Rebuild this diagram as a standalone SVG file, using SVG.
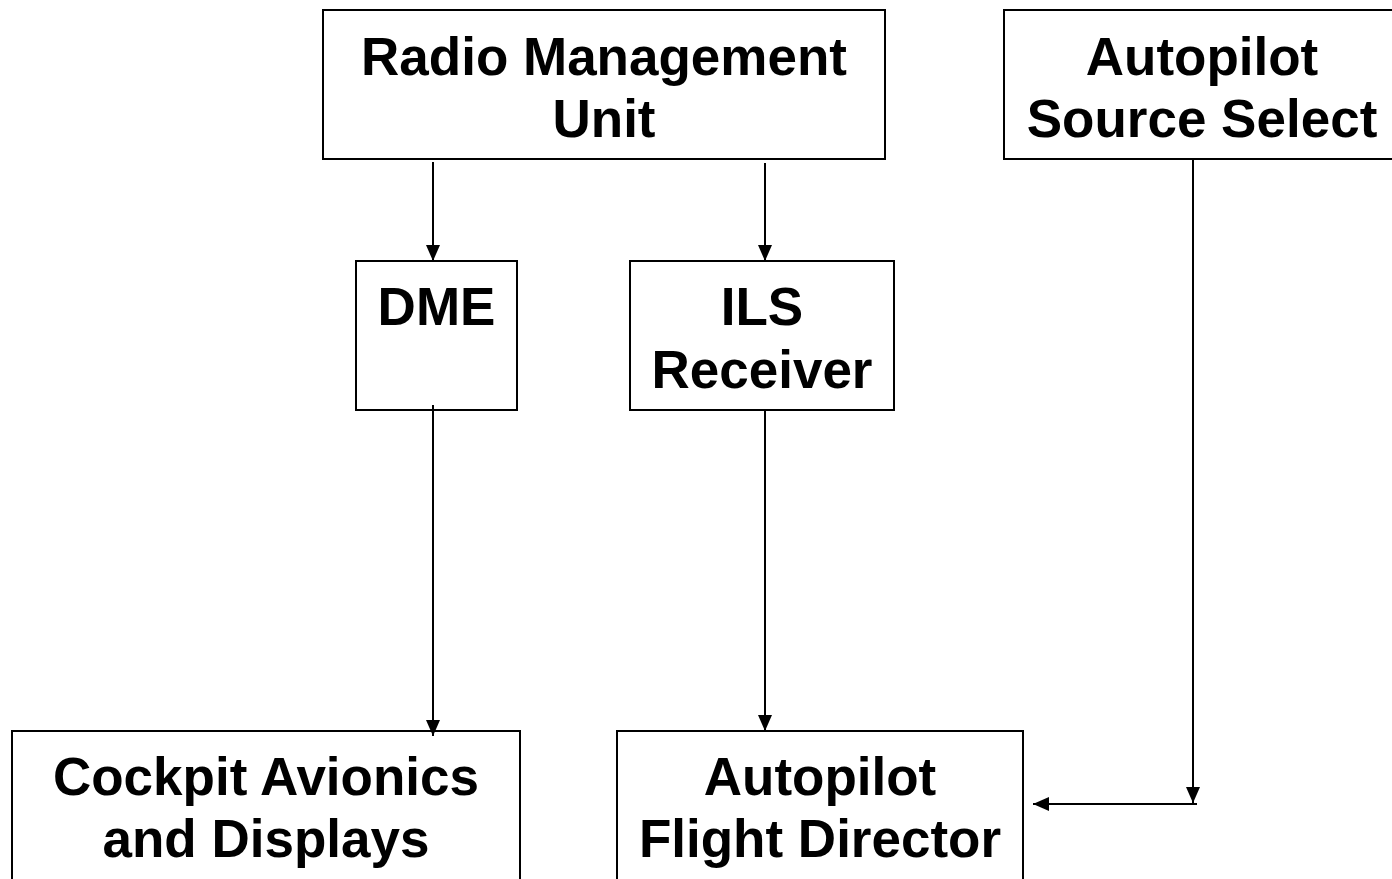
<svg xmlns="http://www.w3.org/2000/svg" width="1392" height="879" viewBox="0 0 1392 879">
<style>
.box{fill:#fff;stroke:#000;stroke-width:2}
.lbl{font-family:"Liberation Sans",Arial,sans-serif;font-weight:bold;font-size:53px;fill:#000;text-anchor:middle}
.con{stroke:#000;stroke-width:2;fill:none}
</style>
<defs>
<marker id="ah" viewBox="0 0 16 14" refX="16" refY="7" markerWidth="16" markerHeight="14" markerUnits="userSpaceOnUse" orient="auto">
<path d="M0,0 L16,7 L0,14 Z" fill="#000"/>
</marker>
</defs>
<rect width="1392" height="879" fill="#fff"/>
<g id="rmu">
<rect class="box" x="323" y="10" width="562" height="149"/>
<text class="lbl" x="604" y="75">Radio Management</text>
<text class="lbl" x="604" y="137">Unit</text>
</g>
<g id="ass">
<rect class="box" x="1004" y="10" width="400" height="149"/>
<text class="lbl" x="1202" y="75">Autopilot</text>
<text class="lbl" x="1202" y="137">Source Select</text>
</g>
<g id="dme">
<rect class="box" x="356" y="261" width="161" height="149"/>
<text class="lbl" x="436.5" y="325">DME</text>
</g>
<g id="ils">
<rect class="box" x="630" y="261" width="264" height="149"/>
<text class="lbl" x="762" y="325">ILS</text>
<text class="lbl" x="762" y="388">Receiver</text>
</g>
<g id="cad">
<rect class="box" x="12" y="731" width="508" height="170"/>
<text class="lbl" x="266" y="795">Cockpit Avionics</text>
<text class="lbl" x="266" y="857">and Displays</text>
</g>
<g id="afd">
<rect class="box" x="617" y="731" width="406" height="170"/>
<text class="lbl" x="820" y="795">Autopilot</text>
<text class="lbl" x="820" y="857">Flight Director</text>
</g>
<g id="connectors">
<line class="con" x1="433" y1="162" x2="433" y2="261" marker-end="url(#ah)"/>
<line class="con" x1="765" y1="163" x2="765" y2="261" marker-end="url(#ah)"/>
<line class="con" x1="433" y1="405" x2="433" y2="736" marker-end="url(#ah)"/>
<line class="con" x1="765" y1="410" x2="765" y2="731" marker-end="url(#ah)"/>
<line class="con" x1="1193" y1="160" x2="1193" y2="803" marker-end="url(#ah)"/>
<line class="con" x1="1197" y1="804" x2="1033" y2="804" marker-end="url(#ah)"/>
</g>
</svg>
